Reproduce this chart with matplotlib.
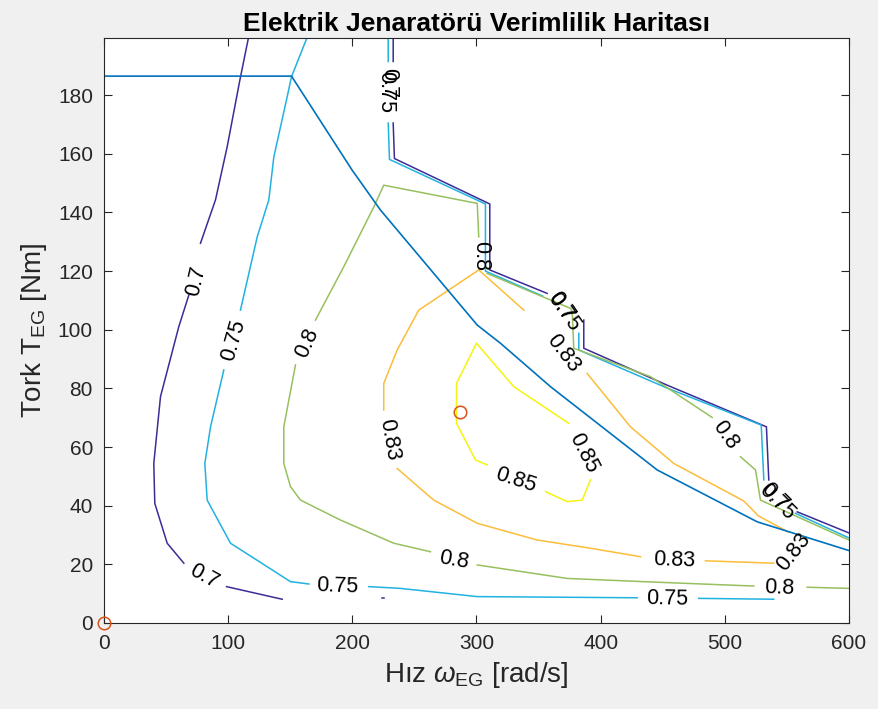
import numpy as np
import matplotlib
matplotlib.use("Agg")
import matplotlib.pyplot as plt

nan = np.nan

# ---- data ----
levels = [0.7, 0.75, 0.8, 0.83, 0.85]

# 0.70 contour: left branch and boundary branch (nan = label gap)
c070a_x = [116.3, 109.4, 99.2, 89.8, 77.7, nan, 68.3, 60.2, 45.5, 40.1, 40.9, 50.9, 64.3, nan, 98.7, 143.5]
c070a_y = [199.5, 185.1, 162.4, 144.3, 129.5, nan, 111.8, 101.0, 77.2, 54.4, 40.8, 27.2, 20.4, nan, 12.4, 8.1]
c070b_x = [232.9, 232.9, nan, 232.9, 233.9, 310.7, 310.7, 356.9, nan, 386.4, 386.4, 453.6, 533.5, 535.4, nan, 558.3, 600.0]
c070b_y = [199.5, 191.5, nan, 170.5, 158.4, 142.9, 120.4, 112.4, nan, 103.3, 93.7, 81.1, 66.9, 48.8, nan, 37.9, 30.7]
c070c_x = [224.0, 225.5]
c070c_y = [8.4, 8.4]

# 0.75 contour
c075a_x = [163.4, 151.0, 147.5, 136.8, 132.7, 123.4, 109.9, nan, 96.5, 85.8, 81.2, 83.1, 101.9, 150.2, 165.0, nan,
           213.3, 238.8, 300.6, 429.4, nan, 479.0, 539.4]
c075a_y = [199.5, 186.3, 179.4, 159.0, 144.2, 131.7, 106.7, nan, 86.3, 66.9, 54.4, 41.9, 27.2, 14.1, 13.3, nan,
           12.4, 11.8, 9.0, 8.6, nan, 8.4, 8.1]
c075b_x = [228.9, 228.9, nan, 228.9, 229.9, 307.2, 307.2, 353.2, nan, 382.4, 382.4, 453.6, 529.3, 531.4, nan, 556.9, 600.0]
c075b_y = [199.5, 191.5, nan, 170.5, 158.1, 142.9, 120.0, 111.5, nan, 98.8, 93.1, 80.1, 67.5, 48.8, nan, 37.4, 29.0]

# 0.80 contour
c080_x = [600.0, 528.7, 524.7, 512.6, nan, 489.8, 440.1, 378.3, 377.1, 375.7, 308.6, nan, 301.8, 300.6, 225.3, 217.3,
          193.1, 170.3, nan, 154.2, 144.8, 144.8, 150.2, 158.3, 190.5, 233.4, 262.9, nan, 300.6, 373.0, 440.1, 523.3,
          nan, 566.3, 600.0]
c080_y = [28.3, 41.9, 52.2, 56.7, nan, 70.1, 84.0, 93.7, 106.1, 107.3, 119.2, nan, 131.7, 143.1, 149.3, 141.9,
          121.5, 103.3, nan, 88.0, 66.9, 54.4, 46.5, 41.9, 35.1, 27.2, 24.3, nan, 19.8, 15.2, 14.0, 12.6,
          nan, 12.2, 11.8]

# 0.83 contour
c083_x = [539.4, 484.4, nan, 432.1, 391.8, 348.9, 300.6, 265.6, 236.1, nan, 225.3, 225.3, 236.1, 253.5, 301.8, 338.1,
          nan, 389.1, 424.0, 458.9, 515.3, 527.1, 551.3]
c083_y = [20.4, 21.2, nan, 22.6, 25.5, 28.3, 34.0, 41.9, 52.7, nan, 72.6, 81.7, 93.1, 106.7, 120.4, 106.7,
          nan, 85.1, 66.9, 54.4, 41.6, 36.5, 31.0]

# 0.85 contour
c085_x = [374.3, 330.0, 300.0, 283.9, 283.9, 299.2, 308.6, nan, 355.6, 373.0, 385.1, 391.8]
c085_y = [68.1, 80.6, 95.4, 81.7, 68.1, 55.6, 53.9, nan, 44.8, 41.4, 41.9, 48.8]

# maximum torque curve
wmax = [0, 151.0, 199.9, 222.7, 300.6, 319.3, 359.6, 445.5, 526.1, 600.0]
tmax = [186.5, 186.5, 154.4, 140.8, 101.6, 95.4, 80.6, 52.2, 34.5, 24.7]

# operating points
op_w = [0.0, 287.1]
op_t = [0.0, 72.0]

# contour labels: text, x, y, rotation
lab_text = ["0.7", "0.7", "0.75", "0.75", "0.75", "0.8", "0.8", "0.8", "0.8", "0.8",
            "0.83", "0.83", "0.83", "0.83", "0.85", "0.85",
            "0.75", "0.7", "0.75", "0.7", "0.75", "0.7"]
lab_x = [74.5, 80.4, 104.5, 187.8, 453.6, 163.6, 281.7, 543.5, 500.5, 303.2,
         229.4, 370.1, 458.9, 555.5, 331.4, 386.4,
         226.6, 229.1, 370.4, 368.0, 542.2, 540.0]
lab_y = [116.6, 15.8, 96.5, 12.4, 8.1, 95.4, 21.5, 11.8, 64.1, 125.0,
         62.4, 92.1, 21.5, 24.3, 48.8, 57.9,
         181.0, 184.0, 106.1, 108.0, 41.4, 43.0]
lab_rot = [77, -29, 74, -2, -1, 66, -10, -2, -55, -90,
           -80, -53, -2, 52, -18, -63,
           -90, -90, -55, -55, -45, -45]

xticks = [0, 100, 200, 300, 400, 500, 600]
yticks = [0, 20, 40, 60, 80, 100, 120, 140, 160, 180]

# ---- style ----
plt.rcParams['font.family'] = ['Liberation Sans', 'DejaVu Sans']
plt.rcParams['mathtext.fontset'] = 'custom'
plt.rcParams['mathtext.rm'] = 'Liberation Sans'
plt.rcParams['mathtext.it'] = 'Liberation Sans:italic'

col = {0.7: '#3b2c97', 0.75: '#21b2e2', 0.8: '#97c05e', 0.83: '#fbbd3a', 0.85: '#f4f410'}
lw = 1.1

fig = plt.figure(figsize=(8.79, 7.09), dpi=100, facecolor='#f0f0f0')
ax = fig.add_axes([104/879, 1-623/709, (849-104)/879, (623-38)/709])
ax.set_facecolor('white')

ax.plot(c070a_x, c070a_y, color=col[0.7], lw=lw)
ax.plot(c070b_x, c070b_y, color=col[0.7], lw=lw)
ax.plot(c070c_x, c070c_y, color=col[0.7], lw=lw)
ax.plot(c075a_x, c075a_y, color=col[0.75], lw=lw)
ax.plot(c075b_x, c075b_y, color=col[0.75], lw=lw)
ax.plot(c080_x, c080_y, color=col[0.8], lw=lw)
ax.plot(c083_x, c083_y, color=col[0.83], lw=lw)
ax.plot(c085_x, c085_y, color=col[0.85], lw=lw)
ax.plot(wmax, tmax, color='#0072bd', lw=1.2)
ax.plot(op_w, op_t, ls='none', marker='o', ms=9, mfc='none', mec='#d95319', mew=1.1, clip_on=False, zorder=5)

for t, x, y, r in zip(lab_text, lab_x, lab_y, lab_rot):
    ax.text(x, y, t, rotation=r, rotation_mode='anchor', ha='center', va='center',
            fontsize=15.5, color='black')

ax.set_xlim(0, 600)
ax.set_ylim(0, 199.5)
ax.set_xticks(xticks)
ax.set_yticks(yticks)
ax.tick_params(direction='in', top=True, right=True, length=6, width=0.8,
               labelsize=15, colors='#262626', pad=8)
for s in ax.spines.values():
    s.set_color('#262626')
    s.set_linewidth(0.8)

ax.set_xlabel(r'Hız $\omega_{\mathrm{EG}}$ [rad/s]', fontsize=20, color='#262626', labelpad=5)
ax.set_ylabel(r'Tork T$_{\mathrm{EG}}$ [Nm]', fontsize=20, color='#262626', labelpad=6)
ax.set_title('Elektrik Jenaratörü Verimlilik Haritası', fontsize=19, fontweight='bold', color='black', pad=5)

fig.savefig('out.png', dpi=100, facecolor=fig.get_facecolor())
